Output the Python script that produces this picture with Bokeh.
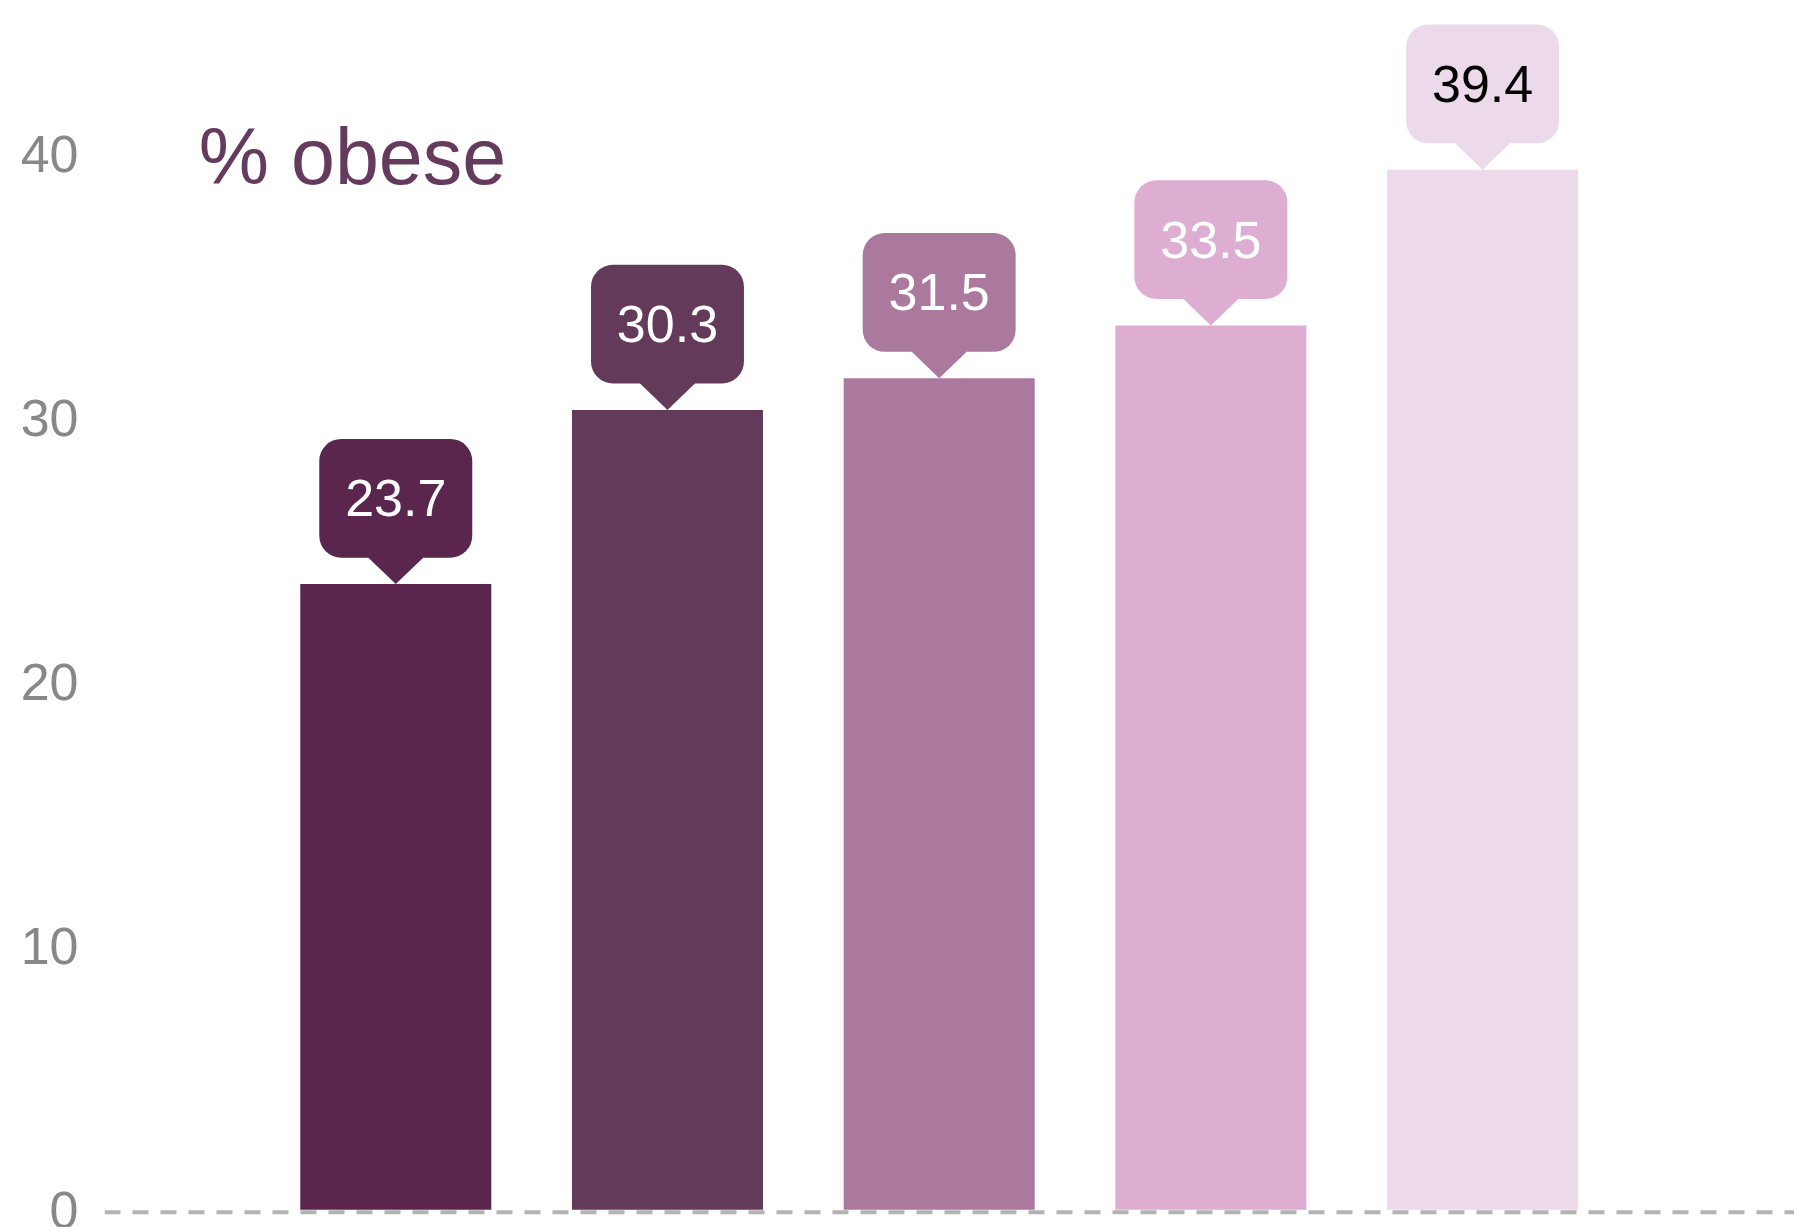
from bokeh.plotting import figure
from bokeh.models import FixedTicker, Span, Label, Range1d
from bokeh.core.properties import value
from bokeh.embed import file_html
from bokeh.resources import INLINE

# ---- data ----
categories = ["Group 1", "Group 2", "Group 3", "Group 4", "Group 5"]
values = [23.7, 30.3, 31.5, 33.5, 39.4]
bar_colors = ["#5a264e", "#633a5a", "#ab789e", "#ddaed2", "#ecdaea"]
label_text_colors = ["#ffffff", "#ffffff", "#ffffff", "#ffffff", "#000000"]
y_ticks = [0, 10, 20, 30, 40]
title_text = "% obese"

# ---- layout / style ----
W, H = 1794, 1227
BAR_W = 0.703
PTR_H = 1.0     # pointer height (data units)
PTR_HW = 0.101  # pointer half width (x units)
BOX_H = 4.5
BOX_HW = 0.2815
FONT = "Liberation Sans"

xs = list(range(len(values)))

p = figure(width=W, height=H, output_backend="svg", toolbar_location=None,
           x_range=Range1d(-1.072, 5.148), y_range=Range1d(-0.22, 45.81),
           x_axis_location=None, title=None,
           min_border_left=104, min_border_right=0, min_border_top=0,
           min_border_bottom=12)
p.outline_line_color = None
p.xgrid.visible = False
p.ygrid.visible = False
p.background_fill_color = "white"
p.border_fill_color = "white"

# baseline
p.add_layout(Span(location=-0.1, dimension="width", line_color="#b3b3b3",
                  line_width=4, line_dash="16 12", level="underlay"))

# bars
p.vbar(x=xs, top=values, bottom=0, width=BAR_W, fill_color=bar_colors,
       line_color=None)

# callout boxes
box_bottom = [v + PTR_H for v in values]
box_top = [v + PTR_H + BOX_H for v in values]
p.quad(left=[x - BOX_HW for x in xs], right=[x + BOX_HW for x in xs],
       bottom=box_bottom, top=box_top, fill_color=bar_colors,
       line_color=None, border_radius=22)

# pointers
ptr_xs = [[x - PTR_HW, x - PTR_HW, x + PTR_HW, x + PTR_HW, x] for x in xs]
ptr_ys = [[v + PTR_H, v + PTR_H + 0.3, v + PTR_H + 0.3, v + PTR_H, v] for v in values]
p.patches(xs=ptr_xs, ys=ptr_ys, fill_color=bar_colors, line_color=None)

# value labels
p.text(x=xs, y=[v + PTR_H + BOX_H / 2 for v in values],
       text=[f"{v:.1f}" for v in values], text_color=label_text_colors,
       text_font=value(FONT), text_font_size="52px", text_align="center",
       text_baseline="middle")

# title-like label
p.add_layout(Label(x=-0.725, y=39.9, text=title_text, text_font=FONT,
                   text_font_size="79px", text_color="#643b5d",
                   text_baseline="alphabetic", text_align="left"))

# y axis
ax = p.yaxis[0]
ax.ticker = FixedTicker(ticks=y_ticks)
ax.axis_line_color = None
ax.major_tick_line_color = None
ax.minor_tick_line_color = None
ax.major_tick_in = 0
ax.major_tick_out = 0
ax.major_label_standoff = 26
ax.major_label_text_font = FONT
ax.major_label_text_font_size = "52px"
ax.major_label_text_color = "#888888"

open("out.html", "w").write(file_html(p, INLINE))
